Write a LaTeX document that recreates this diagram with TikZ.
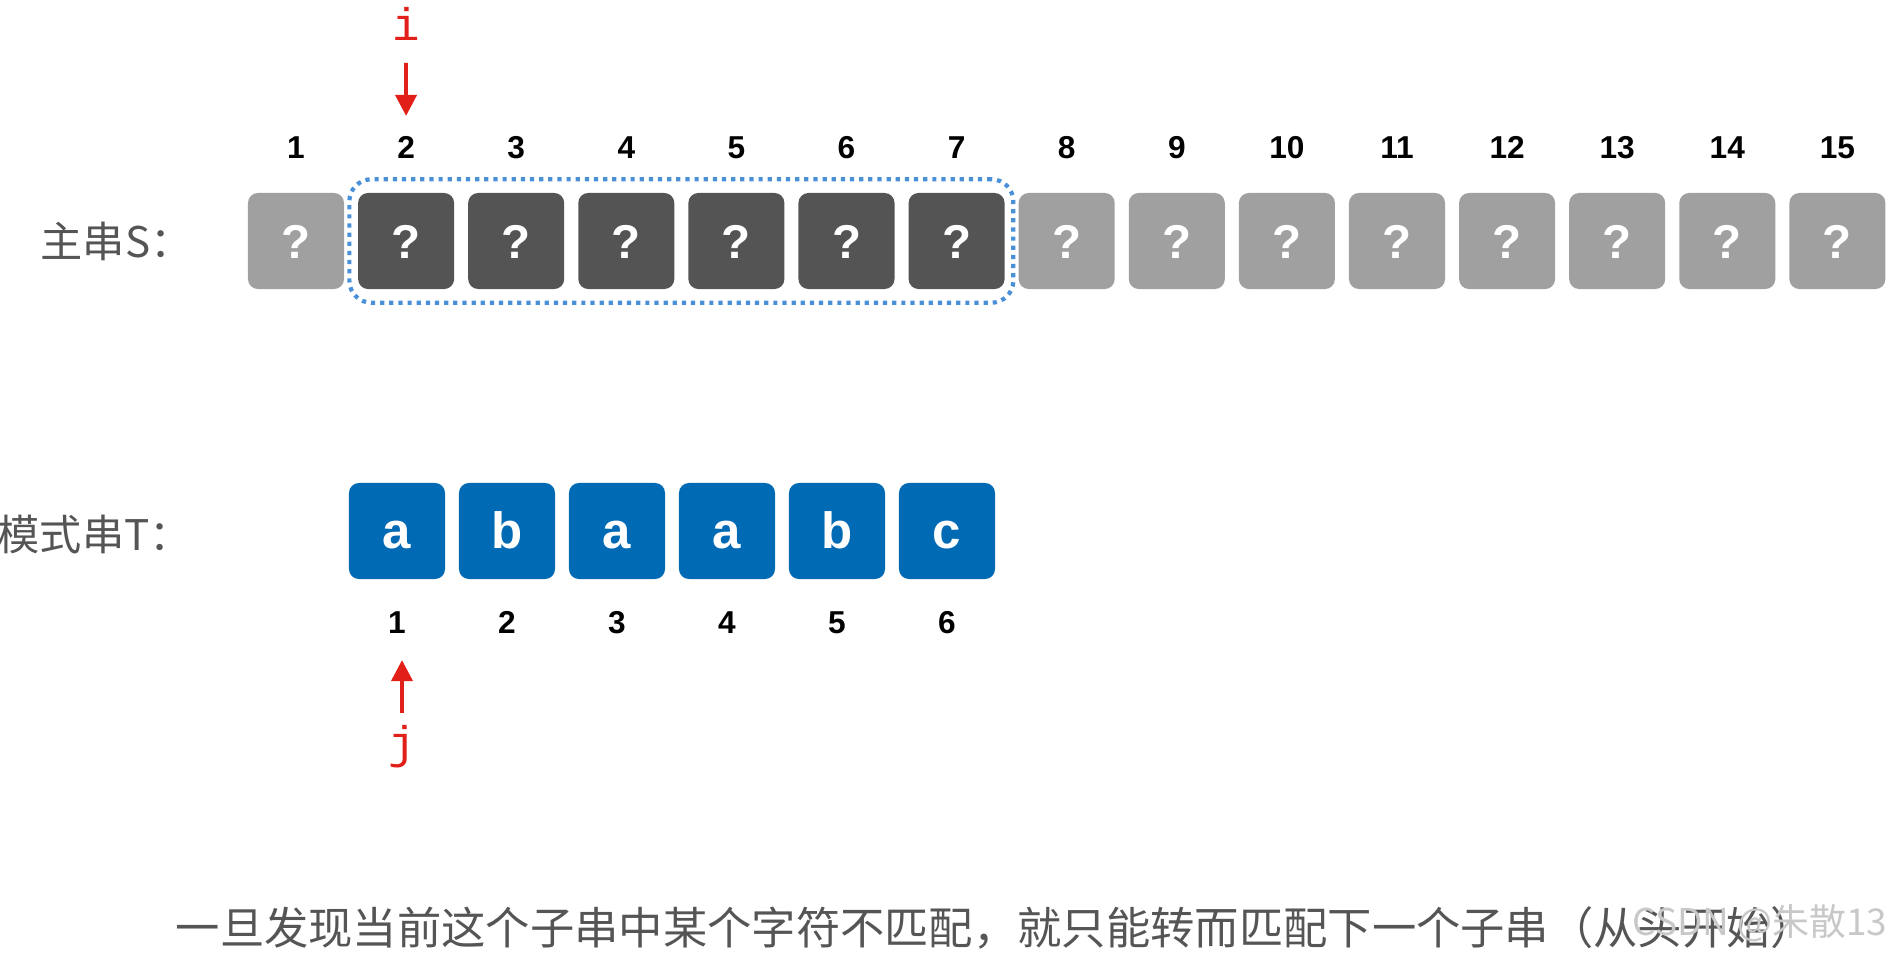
\documentclass[tikz,border=0pt]{standalone}
\usepackage{fontspec}
\setmainfont{Liberation Sans}
\newfontfamily\cjk{Noto Sans CJK SC}
\newfontfamily\monofnt{Liberation Mono}
\usetikzlibrary{arrows.meta,positioning,fit}
\definecolor{cellgray}{RGB}{160,160,160}
\definecolor{celldark}{RGB}{84,84,84}
\definecolor{cellblue}{RGB}{0,106,180}
\definecolor{windowblue}{RGB}{74,144,217}
\definecolor{pointerred}{RGB}{226,32,26}
\definecolor{labelgray}{RGB}{85,85,85}
\definecolor{markgray}{RGB}{200,200,200}

\tikzset{
    cell/.style={rectangle, rounded corners=0.1cm, minimum width=0.96cm, minimum height=0.96cm, inner sep=0pt, text height=1.02em, text depth=0pt, text=white, font=\fontsize{13.5}{14}\selectfont\bfseries},
    idle/.style={cell, fill=cellgray},
    busy/.style={cell, fill=celldark},
    pat/.style={cell, fill=cellblue, font=\fontsize{14.5}{15}\selectfont\bfseries},
    idx/.style={text height=0.72em, text depth=0pt, font=\fontsize{9}{10}\selectfont\bfseries},
    window/.style={draw=windowblue, line width=1.2pt, dash pattern=on 1.2pt off 1.4pt, rounded corners=0.22cm, inner xsep=0.08cm, inner ysep=0.13cm},
    pointer/.style={draw=pointerred, line width=1.1pt, -{Triangle[length=0.21cm,width=0.21cm]}},
    ptrlabel/.style={text=pointerred, font=\monofnt\fontsize{13}{14}\selectfont},
    caption/.style={text=labelgray, inner sep=0pt, font=\cjk\fontsize{12}{14}\selectfont}
}

\begin{document}
\begin{tikzpicture}[x=0.01cm, y=-0.01cm]
    \useasboundingbox (0,0) rectangle (1890,957);

    % main string S
    \node[caption, anchor=west] (slbl) at (40,241) {主串S：};
    \node[idle] (s1) at (296,241) {?};
    \foreach \k in {2,...,7}
        \node[busy] (s\k) at ({296+(\k-1)*110.1},241) {?};
    \foreach \k in {8,...,15}
        \node[idle] (s\k) at ({296+(\k-1)*110.1},241) {?};
    \foreach \k in {1,...,15}
        \node[idx] (n\k) at ({296+(\k-1)*110.1},146) {\k};
    \node[window, fit=(s2)(s7)] (win) {};

    % pattern T
    \node[caption, anchor=west] (tlbl) at (-3,534) {模式串T：};
    \foreach \c [count=\k] in {a,b,a,a,b,c} {
        \node[pat] (t\k) at ({397+(\k-1)*110},531) {\c};
        \node[idx] (m\k) at ({397+(\k-1)*110},621) {\k};
    }

    % pointers i and j
    \node[ptrlabel] (ilbl) at (406,24) {i};
    \draw[pointer, shorten <=0.1cm, shorten >=0.05cm] (ilbl) -- (n2);
    \node[ptrlabel] (jlbl) at (402,747) {j};
    \draw[pointer, shorten >=0.14cm] (jlbl) -- (jlbl |- m1.south);

    % note
    \node[caption, anchor=west, font=\cjk\fontsize{12.6}{15}\selectfont] (note) at (175,928) {一旦发现当前这个子串中某个字符不匹配，就只能转而匹配下一个子串（从头开始）};
    \node[text=markgray, inner sep=0pt, anchor=east, font=\cjk\fontsize{10.5}{12}\selectfont] (mark) at (1888,923) {CSDN @朱散13};
\end{tikzpicture}
\end{document}
